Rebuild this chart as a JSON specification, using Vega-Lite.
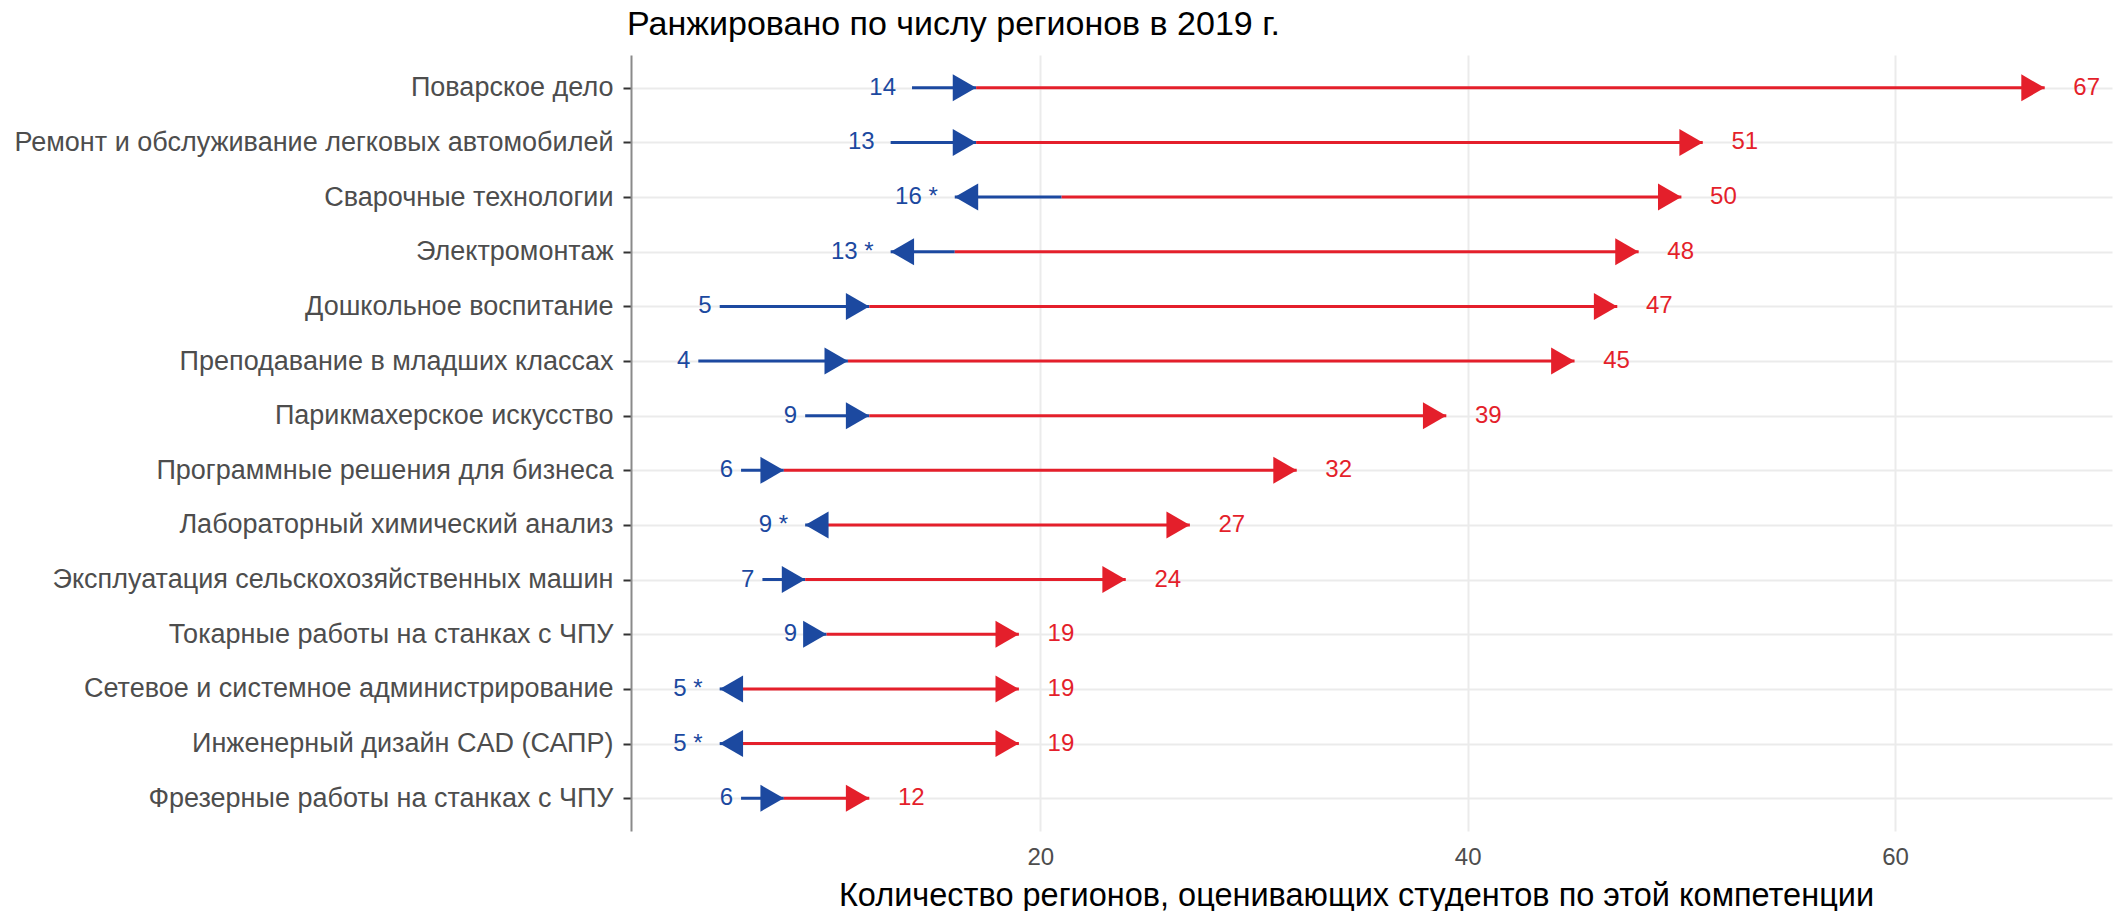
{
  "$schema": "https://vega.github.io/schema/vega-lite/v6.json",
  "width": 1481,
  "height": 776,
  "autosize": {"type": "none"},
  "padding": {"left": 631, "top": 55, "right": 16, "bottom": 80},
  "background": "white",
  "config": {"view": {"stroke": null}, "font": "Liberation Sans"},
  "title": {"text": "Ранжировано по числу регионов в 2019 г.", "anchor": "start", "frame": "group", "font": "Liberation Sans", "fontSize": 34, "fontWeight": "normal", "color": "black", "baseline": "bottom", "offset": 12, "dx": -4, "dy": 33},
  "data": {"values": [
    {"skill": "Поварское дело", "b0": 14, "b1": 17, "r0": 17, "r1": 67, "lab": 14, "lab_text": "14"},
    {"skill": "Ремонт и обслуживание легковых автомобилей", "b0": 13, "b1": 17, "r0": 17, "r1": 51, "lab": 13, "lab_text": "13"},
    {"skill": "Сварочные технологии", "b0": 21, "b1": 16, "r0": 21, "r1": 50, "lab": 16, "lab_text": "16 *"},
    {"skill": "Электромонтаж", "b0": 16, "b1": 13, "r0": 16, "r1": 48, "lab": 13, "lab_text": "13 *"},
    {"skill": "Дошкольное воспитание", "b0": 5, "b1": 12, "r0": 12, "r1": 47, "lab": 5, "lab_text": "5"},
    {"skill": "Преподавание в младших классах", "b0": 4, "b1": 11, "r0": 11, "r1": 45, "lab": 4, "lab_text": "4"},
    {"skill": "Парикмахерское искусство", "b0": 9, "b1": 12, "r0": 12, "r1": 39, "lab": 9, "lab_text": "9"},
    {"skill": "Программные решения для бизнеса", "b0": 6, "b1": 8, "r0": 8, "r1": 32, "lab": 6, "lab_text": "6"},
    {"skill": "Лабораторный химический анализ", "b0": 10, "b1": 9, "r0": 10, "r1": 27, "lab": 9, "lab_text": "9 *"},
    {"skill": "Эксплуатация сельскохозяйственных машин", "b0": 7, "b1": 9, "r0": 9, "r1": 24, "lab": 7, "lab_text": "7"},
    {"skill": "Токарные работы на станках с ЧПУ", "b0": 9, "b1": 10, "r0": 10, "r1": 19, "lab": 9, "lab_text": "9"},
    {"skill": "Сетевое и системное администрирование", "b0": 6, "b1": 5, "r0": 6, "r1": 19, "lab": 5, "lab_text": "5 *"},
    {"skill": "Инженерный дизайн CAD (САПР)", "b0": 6, "b1": 5, "r0": 6, "r1": 19, "lab": 5, "lab_text": "5 *"},
    {"skill": "Фрезерные работы на станках с ЧПУ", "b0": 6, "b1": 8, "r0": 8, "r1": 12, "lab": 6, "lab_text": "6"}
  ]},
  "encoding": {
    "y": {"field": "skill", "type": "nominal", "sort": null, "title": null,
      "scale": {"type": "point", "padding": 0.6},
      "axis": {"domain": true, "domainColor": "#8a8a8a", "domainWidth": 2, "ticks": true, "tickColor": "#333333", "tickSize": 8, "tickWidth": 2, "labelFontSize": 27, "labelColor": "#4D4D4D", "labelFont": "Liberation Sans", "labelPadding": 10, "grid": true, "gridColor": "#EBEBEB", "gridWidth": 2, "labelLimit": 1000}}
  },
  "layer": [
    {"mark": {"type": "rule", "color": "#1C49A0", "strokeWidth": 3},
     "encoding": {"x": {"field": "b0", "type": "quantitative", "title": "Количество регионов, оценивающих студентов по этой компетенции",
        "scale": {"domain": [0.85, 70.15], "nice": false, "zero": false},
        "axis": {"values": [20, 40, 60], "domain": false, "ticks": false, "grid": true, "gridColor": "#EBEBEB", "gridWidth": 2, "labelFontSize": 24, "labelColor": "#4D4D4D", "labelFont": "Liberation Sans", "labelPadding": 14, "titleFontSize": 32.5, "titleFont": "Liberation Sans", "titleFontWeight": "normal", "titleColor": "black", "titlePadding": 10, "titleX": 725, "titleAlign": "center"}},
       "x2": {"field": "b1"}}},
    {"mark": {"type": "rule", "color": "#E41F2B", "strokeWidth": 3},
     "encoding": {"x": {"field": "r0", "type": "quantitative", "title": "Количество регионов, оценивающих студентов по этой компетенции"}, "x2": {"field": "r1"}}},
    {"transform": [{"filter": "datum.b1 > datum.b0"}],
     "mark": {"type": "point", "shape": "triangle-right", "size": 729, "filled": true, "opacity": 1, "color": "#1C49A0", "xOffset": -11.7},
     "encoding": {"x": {"field": "b1", "type": "quantitative", "title": "Количество регионов, оценивающих студентов по этой компетенции"}}},
    {"transform": [{"filter": "datum.b1 < datum.b0"}],
     "mark": {"type": "point", "shape": "triangle-left", "size": 729, "filled": true, "opacity": 1, "color": "#1C49A0", "xOffset": 11.7},
     "encoding": {"x": {"field": "b1", "type": "quantitative", "title": "Количество регионов, оценивающих студентов по этой компетенции"}}},
    {"mark": {"type": "point", "shape": "triangle-right", "size": 729, "filled": true, "opacity": 1, "color": "#E41F2B", "xOffset": -11.7},
     "encoding": {"x": {"field": "r1", "type": "quantitative", "title": "Количество регионов, оценивающих студентов по этой компетенции"}}},
    {"transform": [{"filter": "length(datum.lab_text) == 1"}],
     "mark": {"type": "text", "align": "right", "baseline": "middle", "dx": -8, "fontSize": 24, "color": "#1C49A0"},
     "encoding": {"x": {"field": "lab", "type": "quantitative", "title": "Количество регионов, оценивающих студентов по этой компетенции"}, "text": {"field": "lab_text"}}},
    {"transform": [{"filter": "length(datum.lab_text) == 2"}],
     "mark": {"type": "text", "align": "right", "baseline": "middle", "dx": -16, "fontSize": 24, "color": "#1C49A0"},
     "encoding": {"x": {"field": "lab", "type": "quantitative", "title": "Количество регионов, оценивающих студентов по этой компетенции"}, "text": {"field": "lab_text"}}},
    {"transform": [{"filter": "length(datum.lab_text) >= 3"}],
     "mark": {"type": "text", "align": "right", "baseline": "middle", "dx": -17, "fontSize": 24, "color": "#1C49A0"},
     "encoding": {"x": {"field": "lab", "type": "quantitative", "title": "Количество регионов, оценивающих студентов по этой компетенции"}, "text": {"field": "lab_text"}}},
    {"mark": {"type": "text", "align": "center", "baseline": "middle", "dx": 42, "fontSize": 24, "color": "#E41F2B"},
     "encoding": {"x": {"field": "r1", "type": "quantitative", "title": "Количество регионов, оценивающих студентов по этой компетенции"}, "text": {"field": "r1", "type": "quantitative"}}}
  ]
}
